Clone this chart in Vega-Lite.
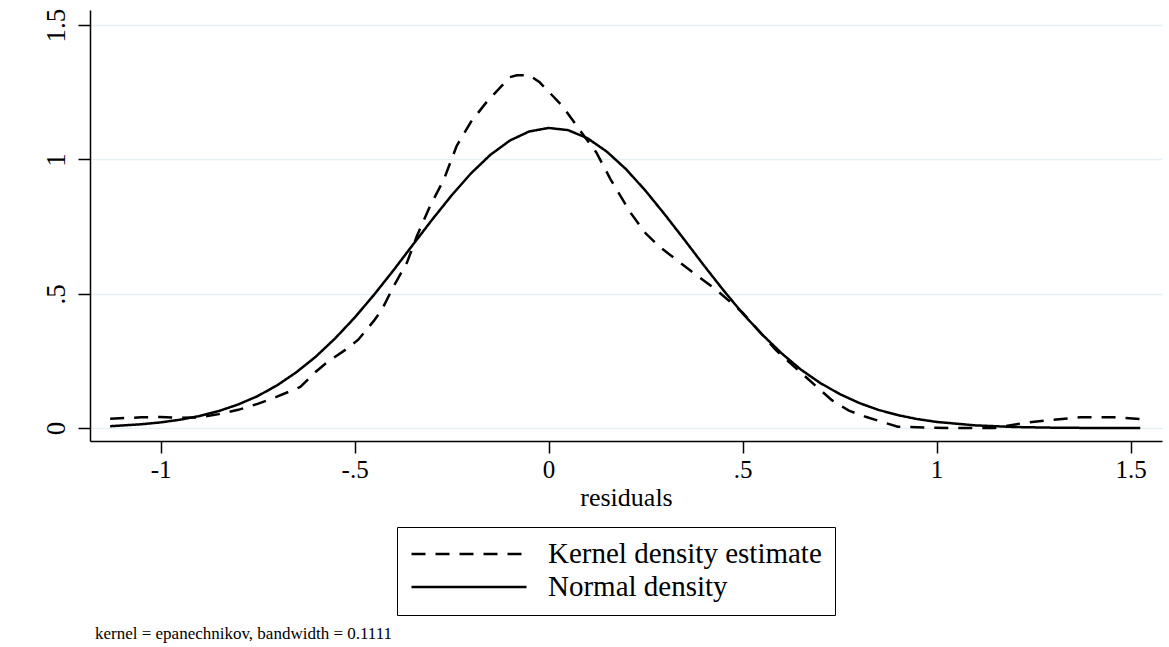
{
  "$schema": "https://vega.github.io/schema/vega-lite/v6.json",
  "width": 1072,
  "height": 431,
  "autosize": {"type": "none"},
  "padding": {"left": 90, "top": 10, "right": 7, "bottom": 206},
  "background": "white",
  "config": {
    "font": "Liberation Serif",
    "view": {"stroke": null},
    "axis": {
      "domainColor": "black", "domainWidth": 1.5,
      "tickColor": "black", "tickWidth": 1.5, "tickSize": 12,
      "labelColor": "black", "labelFont": "Liberation Serif", "labelFontSize": 25,
      "titleColor": "black", "titleFont": "Liberation Serif", "titleFontSize": 26, "titleFontWeight": "normal"
    }
  },
  "title": {
    "text": "kernel = epanechnikov, bandwidth = 0.1111",
    "orient": "bottom", "anchor": "start", "frame": "group",
    "fontSize": 17, "fontWeight": "normal", "color": "black", "font": "Liberation Serif",
    "dx": 5, "offset": 10
  },
  "data": {
    "values": [
      {"series": "Kernel density estimate", "x": -1.13, "y": 0.035},
      {"series": "Kernel density estimate", "x": -1.05, "y": 0.040},
      {"series": "Kernel density estimate", "x": -1.0, "y": 0.041},
      {"series": "Kernel density estimate", "x": -0.95, "y": 0.038},
      {"series": "Kernel density estimate", "x": -0.9, "y": 0.040},
      {"series": "Kernel density estimate", "x": -0.85, "y": 0.052},
      {"series": "Kernel density estimate", "x": -0.8, "y": 0.068},
      {"series": "Kernel density estimate", "x": -0.75, "y": 0.09},
      {"series": "Kernel density estimate", "x": -0.7, "y": 0.117},
      {"series": "Kernel density estimate", "x": -0.64, "y": 0.153},
      {"series": "Kernel density estimate", "x": -0.6, "y": 0.21},
      {"series": "Kernel density estimate", "x": -0.57, "y": 0.246},
      {"series": "Kernel density estimate", "x": -0.52, "y": 0.295},
      {"series": "Kernel density estimate", "x": -0.49, "y": 0.33},
      {"series": "Kernel density estimate", "x": -0.45, "y": 0.40},
      {"series": "Kernel density estimate", "x": -0.43, "y": 0.44},
      {"series": "Kernel density estimate", "x": -0.40, "y": 0.526},
      {"series": "Kernel density estimate", "x": -0.365, "y": 0.616},
      {"series": "Kernel density estimate", "x": -0.34, "y": 0.713},
      {"series": "Kernel density estimate", "x": -0.306, "y": 0.825},
      {"series": "Kernel density estimate", "x": -0.27, "y": 0.925},
      {"series": "Kernel density estimate", "x": -0.237, "y": 1.05},
      {"series": "Kernel density estimate", "x": -0.2, "y": 1.14},
      {"series": "Kernel density estimate", "x": -0.16, "y": 1.213},
      {"series": "Kernel density estimate", "x": -0.1, "y": 1.306},
      {"series": "Kernel density estimate", "x": -0.082, "y": 1.313},
      {"series": "Kernel density estimate", "x": -0.049, "y": 1.313},
      {"series": "Kernel density estimate", "x": -0.023, "y": 1.287},
      {"series": "Kernel density estimate", "x": 0.036, "y": 1.198},
      {"series": "Kernel density estimate", "x": 0.08, "y": 1.11},
      {"series": "Kernel density estimate", "x": 0.123, "y": 1.026},
      {"series": "Kernel density estimate", "x": 0.16, "y": 0.925},
      {"series": "Kernel density estimate", "x": 0.212, "y": 0.80},
      {"series": "Kernel density estimate", "x": 0.25, "y": 0.725},
      {"series": "Kernel density estimate", "x": 0.285, "y": 0.676},
      {"series": "Kernel density estimate", "x": 0.362, "y": 0.59},
      {"series": "Kernel density estimate", "x": 0.432, "y": 0.515},
      {"series": "Kernel density estimate", "x": 0.5, "y": 0.43},
      {"series": "Kernel density estimate", "x": 0.586, "y": 0.29},
      {"series": "Kernel density estimate", "x": 0.663, "y": 0.19},
      {"series": "Kernel density estimate", "x": 0.73, "y": 0.104},
      {"series": "Kernel density estimate", "x": 0.774, "y": 0.065},
      {"series": "Kernel density estimate", "x": 0.817, "y": 0.042},
      {"series": "Kernel density estimate", "x": 0.9, "y": 0.005},
      {"series": "Kernel density estimate", "x": 1.03, "y": 0.0},
      {"series": "Kernel density estimate", "x": 1.15, "y": 0.0},
      {"series": "Kernel density estimate", "x": 1.22, "y": 0.018},
      {"series": "Kernel density estimate", "x": 1.29, "y": 0.03},
      {"series": "Kernel density estimate", "x": 1.37, "y": 0.04},
      {"series": "Kernel density estimate", "x": 1.46, "y": 0.04},
      {"series": "Kernel density estimate", "x": 1.525, "y": 0.034},
      {"series": "Normal density", "x": -1.13, "y": 0.0071},
      {"series": "Normal density", "x": -1.05, "y": 0.0142},
      {"series": "Normal density", "x": -1.0, "y": 0.0213},
      {"series": "Normal density", "x": -0.95, "y": 0.0312},
      {"series": "Normal density", "x": -0.9, "y": 0.045},
      {"series": "Normal density", "x": -0.85, "y": 0.0635},
      {"series": "Normal density", "x": -0.8, "y": 0.088},
      {"series": "Normal density", "x": -0.75, "y": 0.119},
      {"series": "Normal density", "x": -0.7, "y": 0.159},
      {"series": "Normal density", "x": -0.65, "y": 0.208},
      {"series": "Normal density", "x": -0.6, "y": 0.266},
      {"series": "Normal density", "x": -0.55, "y": 0.334},
      {"series": "Normal density", "x": -0.5, "y": 0.411},
      {"series": "Normal density", "x": -0.45, "y": 0.496},
      {"series": "Normal density", "x": -0.4, "y": 0.587},
      {"series": "Normal density", "x": -0.35, "y": 0.682},
      {"series": "Normal density", "x": -0.3, "y": 0.776},
      {"series": "Normal density", "x": -0.25, "y": 0.866},
      {"series": "Normal density", "x": -0.2, "y": 0.948},
      {"series": "Normal density", "x": -0.15, "y": 1.017},
      {"series": "Normal density", "x": -0.1, "y": 1.070},
      {"series": "Normal density", "x": -0.05, "y": 1.104},
      {"series": "Normal density", "x": 0.0, "y": 1.117},
      {"series": "Normal density", "x": 0.05, "y": 1.109},
      {"series": "Normal density", "x": 0.1, "y": 1.079},
      {"series": "Normal density", "x": 0.15, "y": 1.029},
      {"series": "Normal density", "x": 0.2, "y": 0.963},
      {"series": "Normal density", "x": 0.25, "y": 0.883},
      {"series": "Normal density", "x": 0.3, "y": 0.794},
      {"series": "Normal density", "x": 0.35, "y": 0.701},
      {"series": "Normal density", "x": 0.4, "y": 0.606},
      {"series": "Normal density", "x": 0.45, "y": 0.514},
      {"series": "Normal density", "x": 0.5, "y": 0.427},
      {"series": "Normal density", "x": 0.55, "y": 0.349},
      {"series": "Normal density", "x": 0.6, "y": 0.279},
      {"series": "Normal density", "x": 0.65, "y": 0.218},
      {"series": "Normal density", "x": 0.7, "y": 0.168},
      {"series": "Normal density", "x": 0.75, "y": 0.127},
      {"series": "Normal density", "x": 0.8, "y": 0.0937},
      {"series": "Normal density", "x": 0.85, "y": 0.0679},
      {"series": "Normal density", "x": 0.9, "y": 0.0483},
      {"series": "Normal density", "x": 0.95, "y": 0.0337},
      {"series": "Normal density", "x": 1.0, "y": 0.023},
      {"series": "Normal density", "x": 1.1, "y": 0.0101},
      {"series": "Normal density", "x": 1.2, "y": 0.0041},
      {"series": "Normal density", "x": 1.3, "y": 0.0016},
      {"series": "Normal density", "x": 1.4, "y": 0.0005},
      {"series": "Normal density", "x": 1.525, "y": 0.0001}
    ]
  },
  "mark": {"type": "line", "strokeWidth": 2.5, "color": "black"},
  "encoding": {
    "x": {
      "field": "x", "type": "quantitative",
      "scale": {"domain": [-1.182, 1.581], "nice": false, "zero": false},
      "axis": {
        "values": [-1, -0.5, 0, 0.5, 1, 1.5],
        "labelExpr": "datum.value == -1 ? '-1' : datum.value == -0.5 ? '-.5' : datum.value == 0 ? '0' : datum.value == 0.5 ? '.5' : datum.value == 1 ? '1' : '1.5'",
        "title": "residuals", "grid": false, "labelPadding": 4, "titlePadding": 2, "labelFlush": false
      }
    },
    "y": {
      "field": "y", "type": "quantitative",
      "scale": {"domain": [-0.048, 1.556], "nice": false, "zero": false},
      "axis": {
        "values": [0, 0.5, 1, 1.5],
        "labelExpr": "datum.value == 0 ? '0' : datum.value == 0.5 ? '.5' : datum.value == 1 ? '1' : '1.5'",
        "title": null, "grid": true, "gridColor": "#e6eff1", "gridWidth": 1.5,
        "labelAngle": 270, "labelPadding": 8, "labelFlush": false, "labelFontSize": 27
      }
    },
    "strokeDash": {
      "field": "series", "type": "nominal",
      "scale": {"domain": ["Kernel density estimate", "Normal density"], "range": [[14, 10], [1, 0]]},
      "legend": {
        "orient": "none", "legendX": 307, "legendY": 517, "title": null,
        "strokeColor": "black", "fillColor": "white", "padding": 13,
        "labelFontSize": 29, "labelColor": "black", "labelFont": "Liberation Serif", "labelLimit": 500,
        "symbolType": "stroke", "symbolSize": 13225, "symbolStrokeWidth": 2.5,
        "symbolStrokeColor": "black", "labelOffset": 20, "rowPadding": 4, "clipHeight": 28
      }
    }
  }
}
